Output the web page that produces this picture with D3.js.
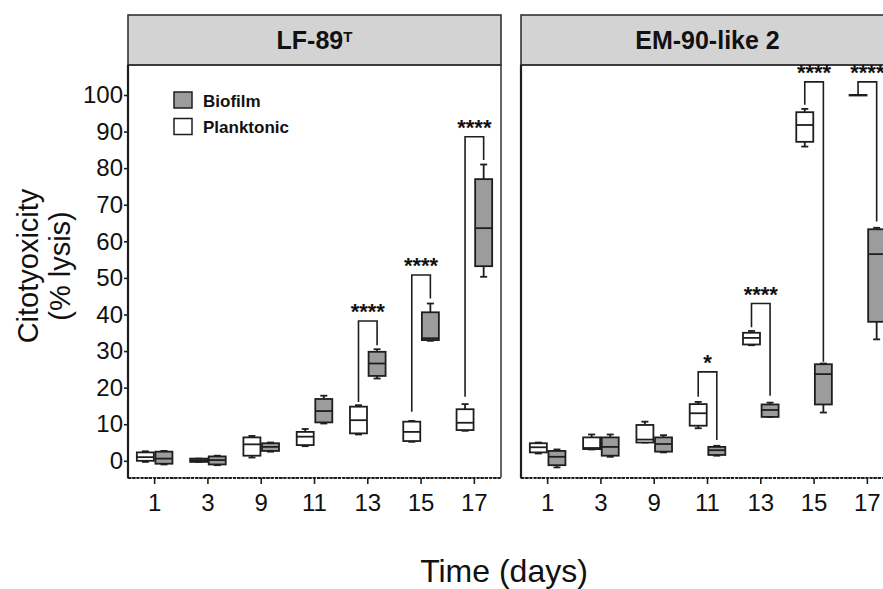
<!DOCTYPE html>
<html>
<head>
<meta charset="utf-8">
<script src="https://cdn.jsdelivr.net/npm/d3@7"></script>
<style>
  body { margin: 0; background: #fff; }
  svg { display: block; font-family: "Liberation Sans", Arial, sans-serif; }
</style>
</head>
<body>
<script>
// --- data (five-number summaries: min, q1, median, q3, max) ---
var days = ["1", "3", "9", "11", "13", "15", "17"];
var groups = ["Planktonic", "Biofilm"];

var lfPlank = [
  [-0.3, 0, 1.0, 2.3, 2.6], [-0.3, -0.3, 0.2, 0.6, 0.6], [0.9, 1.4, 4.5, 6.4, 6.8],
  [4.0, 4.3, 6.6, 7.9, 8.7], [7.2, 7.5, 11.1, 14.8, 15.2], [5.2, 5.4, 7.9, 10.7, 10.9],
  [8.2, 8.4, 10.4, 14.1, 15.5]
];
var lfBio = [
  [-1.0, -0.8, 0.6, 2.5, 2.7], [-1.2, -1.0, 0.2, 1.2, 1.4], [2.5, 2.7, 3.8, 4.8, 5.0],
  [10.2, 10.5, 13.6, 16.9, 17.8], [22.5, 23.2, 26.6, 29.8, 30.5], [32.8, 33.0, 33.5, 40.6, 43.0],
  [50.3, 53.2, 63.6, 77.0, 81.0]
];
var emPlank = [
  [2.0, 2.3, 3.7, 4.8, 5.0], [3.1, 3.2, 3.5, 6.4, 7.2], [5.0, 5.0, 5.8, 9.8, 10.7],
  [8.9, 9.6, 13.0, 15.5, 16.1], [31.6, 31.8, 33.6, 35.0, 35.5], [85.9, 87.2, 91.8, 95.3, 96.2],
  [100, 100, 100, 100, 100]
];
var emBio = [
  [-1.8, -1.2, 1.1, 2.7, 3.1], [1.1, 1.4, 3.8, 6.4, 7.2], [2.3, 2.5, 4.6, 6.4, 7.0],
  [1.4, 1.6, 2.9, 3.8, 4.1], [12.0, 12.0, 13.9, 15.4, 15.9], [13.2, 15.4, 23.7, 26.4, 26.6],
  [33.2, 38.0, 56.5, 63.3, 63.7]
];

// significance brackets: day, label, bracket top, planktonic leg end, biofilm leg end
var lfSigDays = ["13", "15", "17"];
var lfSigLabels = ["****", "****", "****"];
var lfSigTop = [38.2, 50.8, 88.6];
var lfSigPlank = [16.1, 13.4, 17.5];
var lfSigBio = [31.6, 44.4, 82.2];

var emSigDays = ["11", "13", "15", "17"];
var emSigLabels = ["*", "****", "****", "****"];
var emSigTop = [24.3, 43.0, 103.6, 103.6];
var emSigPlank = [17.5, 36.5, 97.3, 100.2];
var emSigBio = [5.7, 17.8, 27.1, 65.4];

var yTicks = d3.range(0, 101, 10);

// --- layout ---
var W = 883, H = 589;
var panelW = 373, headTop = 15, plotTop = 65, plotBottom = 478;
var ink = "#1e1e1e";
var fills = { Planktonic: "#ffffff", Biofilm: "#9c9c9c" };

var svg = d3.select("body").append("svg").attr("width", W).attr("height", H);

var y = d3.scaleLinear().domain([-4.7, 108.2]).range([plotBottom, plotTop]);
var x = d3.scaleBand().domain(days).range([0, panelW]);
var sub = d3.scaleBand().domain(groups)
  .range([x.bandwidth() / 2 - 18.6, x.bandwidth() / 2 + 18.6]);
var boxW = 17, capW = 7;

function sig(daysArr, labels, tops, plank, bio) {
  return daysArr.map(function(d, i) {
    return { day: d, label: labels[i], top: tops[i], plank: plank[i], bio: bio[i] };
  });
}

function drawPanel(x0, title, sup, plank, bio, sigs, withAxis) {
  var g = svg.append("g").attr("transform", "translate(" + x0 + ",0)");

  // header strip
  g.append("rect").attr("x", 0).attr("y", headTop).attr("width", panelW)
    .attr("height", plotTop - headTop).attr("fill", "#d3d3d3")
    .attr("stroke", "#333").attr("stroke-width", 1.6);
  var t = g.append("text").attr("x", panelW / 2).attr("y", 48.5)
    .attr("text-anchor", "middle").attr("font-size", 25).attr("font-weight", "bold")
    .attr("fill", "#111").text(title);
  if (sup) {
    t.append("tspan").attr("font-size", 15).attr("dy", -7).text(sup);
  }

  // plot frame
  g.append("rect").attr("x", 0).attr("y", plotTop).attr("width", panelW)
    .attr("height", plotBottom - plotTop).attr("fill", "none")
    .attr("stroke", "#333").attr("stroke-width", 1.5);
  g.append("line").attr("x1", 0).attr("x2", 0).attr("y1", plotTop).attr("y2", plotBottom)
    .attr("stroke", ink).attr("stroke-width", 2.2);

  // x axis
  var xAxis = d3.axisBottom(x).tickSize(6).tickPadding(10);
  var xa = g.append("g").attr("transform", "translate(0," + plotBottom + ")").call(xAxis);
  xa.select(".domain").attr("stroke", "#fff").attr("stroke-width", 2)
    .attr("stroke-dasharray", "2,1.2");
  xa.selectAll(".tick line").attr("stroke", ink).attr("stroke-width", 1.6);
  xa.selectAll("text").attr("font-size", 24).attr("fill", "#111")
    .attr("font-family", "Liberation Sans, Arial, sans-serif");
  g.append("line").attr("x1", 0).attr("x2", panelW).attr("y1", plotBottom).attr("y2", plotBottom)
    .attr("stroke", ink).attr("stroke-width", 1.8).attr("stroke-dasharray", "3,1.2");

  if (withAxis) {
    var yAxis = d3.axisLeft(y).tickValues(yTicks).tickSize(4).tickPadding(1);
    var ya = g.append("g").call(yAxis);
    ya.select(".domain").remove();
    ya.selectAll(".tick line").attr("stroke", ink).attr("stroke-width", 1.6);
    ya.selectAll("text").attr("font-size", 24).attr("fill", "#111")
      .attr("font-family", "Liberation Sans, Arial, sans-serif");
  }

  // boxes
  var series = [{ group: "Planktonic", vals: plank }, { group: "Biofilm", vals: bio }];
  series.forEach(function(s) {
    s.vals.forEach(function(v, i) {
      var cx = x(days[i]) + sub(s.group) + sub.bandwidth() / 2;
      var bg = g.append("g").attr("stroke", ink).attr("stroke-width", 1.8);
      bg.append("line").attr("x1", cx).attr("x2", cx).attr("y1", y(v[4])).attr("y2", y(v[3]));
      bg.append("line").attr("x1", cx).attr("x2", cx).attr("y1", y(v[1])).attr("y2", y(v[0]));
      bg.append("line").attr("x1", cx - capW / 2).attr("x2", cx + capW / 2)
        .attr("y1", y(v[4])).attr("y2", y(v[4]));
      bg.append("line").attr("x1", cx - capW / 2).attr("x2", cx + capW / 2)
        .attr("y1", y(v[0])).attr("y2", y(v[0]));
      bg.append("rect").attr("x", cx - boxW / 2).attr("y", y(v[3]))
        .attr("width", boxW).attr("height", Math.max(0.5, y(v[1]) - y(v[3])))
        .attr("fill", fills[s.group]);
      bg.append("line").attr("x1", cx - boxW / 2).attr("x2", cx + boxW / 2)
        .attr("y1", y(v[2])).attr("y2", y(v[2]));
    });
  });

  // significance brackets
  sigs.forEach(function(s) {
    var xp = x(s.day) + sub("Planktonic") + sub.bandwidth() / 2;
    var xb = x(s.day) + sub("Biofilm") + sub.bandwidth() / 2;
    g.append("path")
      .attr("d", "M" + xp + "," + y(s.plank) + "V" + y(s.top) + "H" + xb + "V" + y(s.bio))
      .attr("fill", "none").attr("stroke", ink).attr("stroke-width", 1.6);
    g.append("text").attr("x", (xp + xb) / 2).attr("y", y(s.top) - 2)
      .attr("text-anchor", "middle").attr("font-size", 22).attr("font-weight", "bold")
      .attr("fill", "#111").text(s.label);
  });

  return g;
}

var left = drawPanel(128, "LF-89", "T", lfPlank, lfBio,
  sig(lfSigDays, lfSigLabels, lfSigTop, lfSigPlank, lfSigBio), true);
drawPanel(521, "EM-90-like 2", null, emPlank, emBio,
  sig(emSigDays, emSigLabels, emSigTop, emSigPlank, emSigBio), false);

// legend (inside left panel)
var legend = left.append("g").attr("transform", "translate(46,92)");
["Biofilm", "Planktonic"].forEach(function(name, i) {
  legend.append("rect").attr("x", 0).attr("y", i * 26.5).attr("width", 18).attr("height", 16)
    .attr("fill", fills[name]).attr("stroke", ink).attr("stroke-width", 1.5);
  legend.append("text").attr("x", 29).attr("y", i * 26.5 + 14.5)
    .attr("font-size", 17).attr("font-weight", "bold").attr("fill", "#111").text(name);
});

// axis titles
var yt = svg.append("text").attr("transform", "translate(38,266) rotate(-90)")
  .attr("text-anchor", "middle").attr("font-size", 29).attr("fill", "#111");
yt.append("tspan").attr("x", 0).attr("y", 0).text("Citotyoxicity");
yt.append("tspan").attr("x", 0).attr("y", 32).text("(% lysis)");

svg.append("text").attr("x", 504).attr("y", 582).attr("text-anchor", "middle")
  .attr("font-size", 32).attr("fill", "#111").text("Time (days)");
</script>
</body>
</html>
